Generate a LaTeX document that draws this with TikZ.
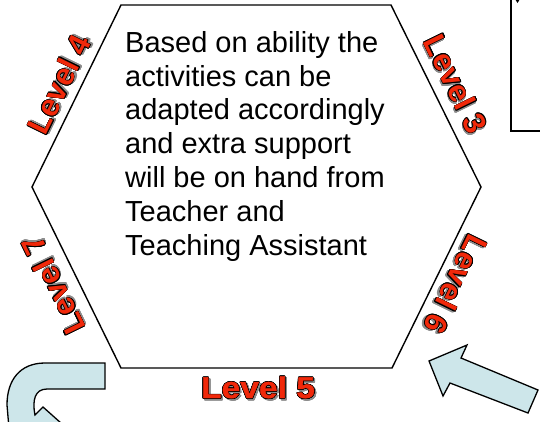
\documentclass[tikz,border=0pt]{standalone}
\usepackage{fontspec}
\setmainfont{Liberation Sans}
\newfontfamily\levelfont{Liberation Sans Bold}
\newfontfamily\levelheavy[FakeBold=1.2,FakeStretch=1.12]{Liberation Sans Bold}
\usepackage[copies]{contour}
\contourlength{0.55pt}
\contournumber{12}
\usetikzlibrary{positioning}
\definecolor{levelred}{RGB}{240,40,10}
\definecolor{arrowblue}{RGB}{205,230,234}
\definecolor{levelshadow}{RGB}{140,140,140}

% red letters, thin black outline, soft shadow
\newcommand{\leveltext}[1]{%
  \makebox[0pt][l]{\kern1.6pt\raisebox{-1.6pt}{\color{levelshadow}\contour{levelshadow}{#1}}}%
  {\color{levelred}\contour{black}{#1}}}

\begin{document}
\begin{tikzpicture}[
  x=1pt, y=-1pt,
  hexedge/.style={line width=1.4pt, line join=miter},
  level/.style={
    font=\levelfont\fontsize{31}{31}\selectfont,
    inner sep=0pt
    },
  arrowfill/.style={
    fill=arrowblue,
    draw=black,
    line width=1.3pt,
    line join=miter
  }
]
\useasboundingbox (0,0) rectangle (540,421);
\clip (0,0) rectangle (540,421);

% hexagon
\coordinate (hexnw) at (121,5);
\coordinate (hexne) at (391,5);
\coordinate (hexe)  at (481,187);
\coordinate (hexse) at (392,368);
\coordinate (hexsw) at (121,368);
\coordinate (hexw)  at (32,187);
\draw[hexedge] (hexnw) -- (hexne) -- (hexe) -- (hexse) -- (hexsw) -- (hexw) -- cycle;

\node[anchor=north west, inner sep=0pt, align=left,
      font=\fontsize{29}{33.8}\selectfont]
  (info) at (125,31)
  {Based on ability the\\
   activities can be\\
   adapted accordingly\\
   and extra support\\
   will be on hand from\\
   Teacher and\\
   Teaching Assistant};

% level labels round the edges
\node[level, rotate=64]  (level4) at (60,85)   {\leveltext{Level 4}};
\node[level, rotate=-64] (level3) at (455,84)  {\leveltext{Level 3}};
\node[level, rotate=244] (level6) at (455,284) {\leveltext{Level 6}};
\node[level, rotate=116] (level7) at (54,285)  {\leveltext{Level 7}};
\node[level, anchor=base, font=\levelheavy\fontsize{30}{30}\selectfont]
  (level5) at (258,398) {\leveltext{Level 5}};

% box at the top right
\draw[line width=1.3pt] (511,-5) -- (511,131) -- (550,131);
\fill (515,-1) -- (520,-1) -- (517.5,3) -- cycle;

% arrows
\draw[arrowfill] (105,363) -- (45,363)
  .. controls (20,363) and (7,380) .. (7,405) -- (10,440) -- (80,440)
  -- (43,407) -- (35,415)
  .. controls (32,400) and (35,389) .. (47,389) -- (105,389) -- cycle;
\draw[arrowfill] (429,361) -- (467,345) -- (461,358) -- (538,390)
  -- (528,413) -- (450,383) -- (443,396) -- cycle;

\end{tikzpicture}
\end{document}
